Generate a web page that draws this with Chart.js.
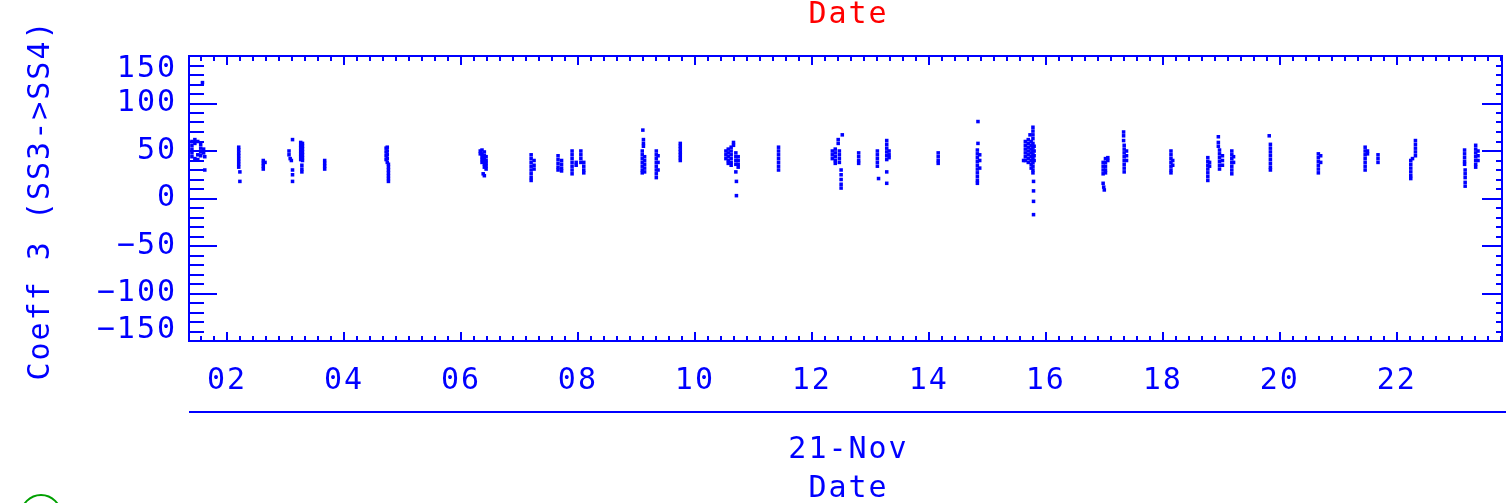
<!DOCTYPE html>
<html><head><meta charset="utf-8">
<script src="https://cdn.jsdelivr.net/npm/chart.js@4.4.1/dist/chart.umd.min.js"></script>
<style>html,body{margin:0;padding:0;background:#fff;overflow:hidden}#wrap{position:relative;width:1506px;height:503px}canvas{display:block}</style>
</head><body><div id="wrap"><canvas id="c" width="1506" height="503" style="width:1506px;height:503px"></canvas></div>
<script>
// ---- data (hours of 21-Nov, Coeff 3) ----
const xTickValues = [2,4,6,8,10,12,14,16,18,20,22];
const xTickLabels = ['02','04','06','08','10','12','14','16','18','20','22'];
const yTickValues = [-150,-100,-50,0,50,100,150];
const yTickLabels = ['\u2212150','\u2212100','\u221250','0','50','100','150'];
const xRange = [1.35, 23.8];
const yRange = [-150, 150];
const dateLabel = '21-Nov';
const xTitle = 'Date';
const yTitle = 'Coeff 3 (SS3->SS4)';
const topTitle = 'Date';
const coeff3Points = [
 [1.40,60],[1.40,56],[1.40,52],[1.40,48],[1.40,44],[1.45,62],[1.45,58],[1.45,42],[1.50,60],[1.50,46],[1.50,41],
 [1.55,57],[1.55,53],[1.55,49],[1.55,45],[1.60,52],[1.60,48],[1.62,44],[1.58,122],[1.62,30],
 [2.20,54],[2.20,51],[2.20,48],[2.20,45],[2.20,42],[2.20,39],[2.20,36],[2.20,33],[2.22,28],[2.22,18],
 [2.62,40],[2.62,37],[2.62,34],[2.62,31],[2.65,38],
 [3.12,62],[3.06,50],[3.06,46],[3.08,42],[3.10,40],[3.12,30],[3.12,25],[3.12,18],
 [3.26,59],[3.26,56],[3.26,53],[3.26,50],[3.26,47],[3.26,44],[3.26,41],[3.29,58],[3.29,55],[3.29,52],[3.29,49],[3.29,46],[3.29,43],[3.29,40],
 [3.28,35],[3.28,31],[3.28,28],
 [3.67,40],[3.67,37],[3.67,34],[3.67,31],
 [4.72,53],[4.72,49],[4.72,45],[4.72,41],[4.74,54],[4.74,50],[4.74,46],[4.74,42],[4.74,38],
 [4.76,36],[4.76,33],[4.76,30],[4.76,27],[4.76,24],[4.76,21],[4.76,18],
 [6.33,50],[6.33,47],[6.36,51],[6.36,47],[6.36,44],[6.36,41],[6.36,38],[6.40,49],[6.40,45],[6.40,42],[6.40,39],[6.40,36],[6.40,33],
 [6.43,44],[6.43,40],[6.43,37],[6.43,34],[6.43,31],[6.38,26],[6.40,24],
 [7.20,46],[7.20,42],[7.20,38],[7.20,34],[7.20,30],[7.20,26],[7.20,22],[7.20,19],[7.25,40],[7.25,35],[7.25,31],
 [7.66,45],[7.66,41],[7.66,37],[7.66,33],[7.66,30],[7.72,40],[7.72,36],[7.72,32],[7.72,29],
 [7.90,50],[7.90,46],[7.90,42],[7.90,38],[7.90,34],[7.90,30],[7.90,26],[7.97,38],[7.97,35],
 [8.05,50],[8.05,46],[8.05,42],[8.05,38],[8.10,38],[8.10,34],[8.10,30],[8.10,27],
 [9.11,72],[9.12,62],[9.12,58],[9.12,55],[9.10,50],[9.10,46],[9.10,42],[9.10,38],[9.10,34],[9.10,30],[9.10,27],
 [9.14,44],[9.14,40],[9.14,36],[9.14,32],[9.14,28],
 [9.34,50],[9.34,46],[9.34,42],[9.34,38],[9.34,34],[9.34,30],[9.34,26],[9.34,22],[9.37,45],[9.37,38],[9.37,30],
 [9.75,58],[9.75,55],[9.75,52],[9.75,49],[9.75,46],[9.75,43],[9.75,40],
 [10.53,50],[10.53,46],[10.53,42],[10.57,52],[10.57,48],[10.57,44],[10.57,40],[10.57,37],
 [10.62,54],[10.62,50],[10.62,46],[10.62,42],[10.62,38],[10.62,35],[10.66,59],[10.66,56],
 [10.70,48],[10.70,44],[10.70,40],[10.70,36],[10.74,44],[10.74,40],[10.74,36],[10.74,33],[10.70,28],[10.71,18],[10.71,3],
 [11.43,54],[11.43,50],[11.43,46],[11.43,42],[11.43,38],[11.43,34],[11.43,30],
 [12.52,67],[12.45,62],[12.45,58],[12.35,50],[12.35,46],[12.35,42],[12.40,52],[12.40,48],[12.40,44],[12.40,40],[12.40,37],
 [12.47,50],[12.47,46],[12.47,42],[12.47,38],[12.50,30],[12.50,25],[12.50,20],[12.50,15],[12.50,11],
 [12.80,48],[12.80,44],[12.80,40],[12.80,37],
 [13.12,50],[13.12,46],[13.12,42],[13.12,38],[13.12,34],[13.28,61],[13.28,57],[13.28,53],[13.28,49],[13.28,45],[13.28,41],
 [13.32,50],[13.32,46],[13.32,43],[13.14,21],[13.28,28],[13.28,16],
 [14.16,48],[14.16,44],[14.16,40],[14.16,37],
 [14.84,81],[14.84,58],[14.83,51],[14.83,47],[14.83,43],[14.83,39],[14.83,35],[14.83,31],[14.83,27],[14.83,23],[14.83,19],[14.83,16],
 [14.87,46],[14.87,40],[14.87,32],
 [15.62,40],[15.65,60],[15.65,56],[15.65,52],[15.65,48],[15.65,44],[15.65,40],
 [15.70,62],[15.70,58],[15.70,54],[15.70,50],[15.70,46],[15.70,42],[15.70,38],[15.73,67],
 [15.75,60],[15.75,56],[15.75,52],[15.75,48],[15.75,44],[15.75,40],[15.75,36],[15.75,32],
 [15.78,75],[15.78,71],[15.78,67],[15.78,63],[15.78,58],[15.78,54],[15.78,50],[15.78,46],[15.78,42],[15.78,38],[15.78,34],[15.78,30],[15.78,27],
 [15.80,55],[15.80,50],[15.80,45],[15.80,40],[15.79,18],[15.79,8],[15.79,-3],[15.79,-17],
 [16.98,38],[16.98,34],[16.98,30],[16.98,26],[17.02,42],[17.02,38],[17.02,34],[17.02,30],[17.02,27],[17.06,43],[17.06,40],
 [16.98,16],[16.99,12],[17.00,9],
 [17.33,70],[17.33,66],[17.33,61],[17.34,56],[17.34,52],[17.34,48],[17.34,44],[17.34,40],[17.34,36],[17.34,32],[17.34,28],
 [17.38,50],[17.38,45],[17.38,40],
 [18.14,50],[18.14,46],[18.14,42],[18.14,38],[18.14,34],[18.14,30],[18.14,27],[18.17,40],[18.17,35],
 [18.77,43],[18.77,39],[18.77,35],[18.77,31],[18.77,27],[18.77,23],[18.77,19],[18.80,38],[18.80,34],
 [18.95,65],[18.95,59],[18.95,55],[18.97,51],[18.97,47],[18.97,43],[18.97,39],[18.97,35],[18.97,31],[19.02,45],[19.02,40],[19.02,35],
 [19.18,50],[19.18,46],[19.18,42],[19.18,38],[19.18,34],[19.18,30],[19.18,26],[19.21,44],[19.21,38],
 [19.82,66],[19.84,57],[19.84,53],[19.84,49],[19.84,45],[19.84,41],[19.84,37],[19.84,33],[19.84,30],
 [20.66,47],[20.66,43],[20.66,39],[20.66,35],[20.66,31],[20.66,27],[20.70,45],[20.70,38],
 [21.46,54],[21.46,50],[21.46,46],[21.46,42],[21.46,38],[21.46,34],[21.46,30],[21.50,50],[21.50,47],
 [21.68,46],[21.68,42],[21.68,38],
 [22.32,61],[22.32,57],[22.32,53],[22.32,49],[22.32,45],[22.27,42],[22.24,40],[22.24,36],[22.24,32],[22.24,28],[22.24,24],[22.24,21],
 [23.16,51],[23.16,47],[23.16,43],[23.16,39],[23.16,36],[23.17,30],[23.17,26],[23.17,22],[23.17,17],[23.17,13],
 [23.35,56],[23.35,52],[23.35,48],[23.35,44],[23.35,40],[23.35,36],[23.35,33],[23.39,50],[23.39,45],[23.39,40]
];

const BLUE = '#0000ff';
const FONT = '"DejaVu Sans Mono", monospace';

function txt(ctx, s, x, y, size, color, align){
  ctx.font = size + 'px ' + FONT;
  ctx.fillStyle = color;
  ctx.textAlign = align || 'center';
  ctx.textBaseline = 'middle';
  try { ctx.letterSpacing = '2px'; } catch(e) {}
  ctx.fillText(s, x, y);
}

const idlAxes = {
  id: 'idlAxes',
  afterDatasetsDraw(chart){
    const ctx = chart.ctx, xs = chart.scales.x, ys = chart.scales.y, a = chart.chartArea;
    ctx.save();
    ctx.strokeStyle = BLUE; ctx.lineWidth = 2; ctx.lineCap = 'butt';
    const L = Math.round(a.left), R = Math.round(a.right), T = Math.round(a.top), B = Math.round(a.bottom);
    ctx.beginPath();
    ctx.rect(L, T, R - L, B - T);
    // y ticks
    for (let v = yRange[0]; v <= yRange[1]; v += 10) {
      const y = Math.round(ys.getPixelForValue(v));
      const major = v % 50 === 0;
      ctx.moveTo(L, y); ctx.lineTo(L + (major ? 28 : 15), y);
      ctx.moveTo(R, y); ctx.lineTo(R - (major ? 20 : 6), y);
    }
    // x ticks (major every 2 h, 9 minor intervals)
    const step = 2 / 9;
    for (let k = -20; k <= 120; k++) {
      const v = 2 + k * step;
      if (v < xRange[0] || v > xRange[1]) continue;
      const x = Math.round(xs.getPixelForValue(v));
      const major = k % 9 === 0;
      const len = major ? 9 : 5;
      ctx.moveTo(x, T); ctx.lineTo(x, T + len);
      ctx.moveTo(x, B); ctx.lineTo(x, B - len);
    }
    ctx.stroke();
    // separator line
    ctx.beginPath(); ctx.moveTo(L, 412); ctx.lineTo(1506, 412); ctx.stroke();
    // y labels
    yTickValues.forEach((v, i) => {
      let y = ys.getPixelForValue(v);
      y = Math.max(T + 13, Math.min(B - 11, y));
      txt(ctx, yTickLabels[i], 177, y, 30, BLUE, 'right');
    });
    // x labels
    xTickValues.forEach((v, i) => {
      txt(ctx, xTickLabels[i], xs.getPixelForValue(v), 381, 30, BLUE, 'center');
    });
    const cx = (L + R) / 2 + 3;
    txt(ctx, dateLabel, cx, 450, 30, BLUE, 'center');
    txt(ctx, xTitle, cx, 489, 30, BLUE, 'center');
    txt(ctx, topTitle, cx, 15, 30, '#ff0000', 'center');
    // y title
    ctx.save();
    ctx.translate(41, 200);
    ctx.rotate(-Math.PI / 2);
    txt(ctx, yTitle, 0, 0, 30, BLUE, 'center');
    ctx.restore();
    // partial symbol from next panel
    ctx.beginPath();
    ctx.strokeStyle = '#00a000';
    ctx.arc(41, 515, 20, 0, Math.PI * 2);
    ctx.stroke();
    ctx.restore();
  }
};

new Chart(document.getElementById('c'), {
  type: 'scatter',
  data: { datasets: [{
    data: coeff3Points.map(p => ({x: p[0], y: p[1]})),
    pointStyle: 'rect', pointRadius: 2.5, pointBorderWidth: 0,
    backgroundColor: BLUE, borderColor: BLUE, showLine: false
  }]},
  options: {
    responsive: false, animation: false, devicePixelRatio: 1,
    layout: { padding: { left: 189, top: 56, right: 2, bottom: 162 } },
    plugins: { legend: { display: false }, tooltip: { enabled: false } },
    scales: {
      x: { type: 'linear', min: xRange[0], max: xRange[1], display: false },
      y: { type: 'linear', min: yRange[0], max: yRange[1], display: false }
    }
  },
  plugins: [idlAxes]
});
</script></body></html>
